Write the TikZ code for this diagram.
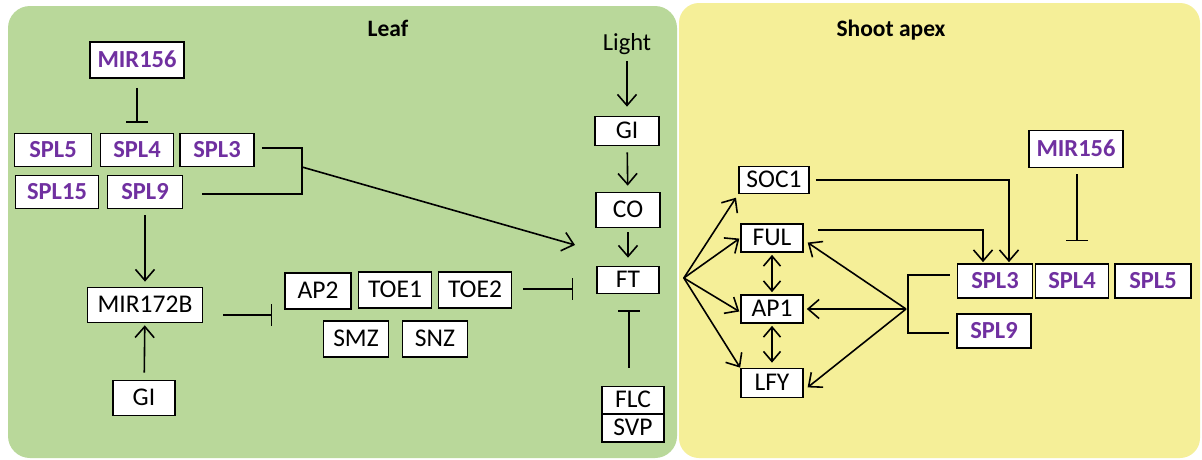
\documentclass[tikz,border=0pt]{standalone}
\usepackage{fontspec}
\setmainfont{Carlito}
\usetikzlibrary{arrows.meta,calc}
\definecolor{leafgreen}{RGB}{185,216,154}
\definecolor{apexyellow}{RGB}{245,239,152}
\definecolor{splpurple}{RGB}{112,48,160}
\begin{document}
\begin{tikzpicture}[x=1pt,y=-1pt,
  box/.style={draw=black,line width=1.7pt,fill=white,inner sep=0pt,
    text height=15.6pt,text depth=0pt,font=\fontsize{25.5}{28}\selectfont},
  pur/.style={text=splpurple,font=\fontsize{24.5}{28}\selectfont\bfseries},
  ttl/.style={font=\fontsize{23.5}{28}\selectfont\bfseries},
  ln/.style={line width=1.6pt},
  ar/.style={line width=1.6pt,-{Straight Barb[length=11pt,width=19pt]}},
  dar/.style={line width=1.6pt,{Straight Barb[length=10pt,width=17pt]}-{Straight Barb[length=10pt,width=17pt]}},
  inh/.style={line width=1.6pt,-{Bar[width=22pt]}}
]
\useasboundingbox (0,0) rectangle (1202,459);
\fill[white] (0,0) rectangle (1202,459);
% panels
\fill[leafgreen,rounded corners=22pt] (8,6) rectangle (677,458);
\fill[apexyellow,rounded corners=20pt] (679,3) rectangle (1200,458);
\node[ttl] (leaf) at (388,28) {Leaf};
\node[ttl] (apex) at (891,30) {Shoot apex};

% ---------- Leaf ----------
\node[box,pur,minimum width=94pt,minimum height=36pt] (mirL) at (137,60) {MIR156};
\node[box,pur,minimum width=77pt,minimum height=33pt] (spl5L) at (53,150) {SPL5};
\node[box,pur,minimum width=73pt,minimum height=33pt] (spl4L) at (137,150) {SPL4};
\node[box,pur,minimum width=74pt,minimum height=33pt] (spl3L) at (217,150) {SPL3};
\node[box,pur,minimum width=83pt,minimum height=33pt] (spl15L) at (57,192) {SPL15};
\node[box,pur,minimum width=75pt,minimum height=33pt] (spl9L) at (145,192) {SPL9};
\node[box,minimum width=115pt,minimum height=35pt] (mir172) at (145,305) {MIR172B};
\node[box,minimum width=62pt,minimum height=35pt] (giL) at (144,398) {GI};
\node[box,minimum width=66pt,minimum height=36pt] (ap2) at (318,291) {AP2};
\node[box,minimum width=73pt,minimum height=36pt] (toe1) at (395,290) {TOE1};
\node[box,minimum width=73pt,minimum height=36pt] (toe2) at (475,290) {TOE2};
\node[box,minimum width=65pt,minimum height=36pt] (smz) at (356,339) {SMZ};
\node[box,minimum width=65pt,minimum height=36pt] (snz) at (435,339) {SNZ};
\node[font=\fontsize{24.5}{28}\selectfont] (light) at (627,44) {Light};
\node[box,minimum width=64pt,minimum height=29pt] (giR) at (627,131) {GI};
\node[box,minimum width=64pt,minimum height=35pt] (co) at (628,210) {CO};
\node[box,minimum width=62pt,minimum height=27pt] (ft) at (628,280) {FT};
\node[box,minimum width=62pt,minimum height=27pt] (flc) at (633,400) {FLC};
\node[box,minimum width=62pt,minimum height=28pt] (svp) at (633,428) {SVP};

\draw[inh,shorten <=9pt,shorten >=10pt] (mirL) -- (spl4L);
\coordinate (bl1) at (302,148);
\coordinate (bl2) at (302,194);
\coordinate (blm) at (302,167);
\coordinate (ftin) at (575,245);
\draw[ln] ($(spl3L.east)+(7,-2)$) -- (bl1) -- (bl2) -- ($(spl9L.east)+(19,2)$);
\draw[ar] (blm) -- (ftin);
\draw[ar,shorten <=6pt,shorten >=5pt] (spl9L) -- (mir172);
\draw[ar,shorten <=7pt,shorten >=2pt] (giL) -- (mir172);
\draw[inh] ($(mir172.east)+(20,10)$) -- ($(ap2.west)+(-12,24)$);
\draw[inh] ($(toe2.east)+(11,-1)$) -- ($(ft.west)+(-23,9)$);
\draw[ar,shorten <=3pt,shorten >=9pt] (light) -- (giR);
\draw[ar,shorten <=6pt,shorten >=6pt] (giR) -- (co);
\draw[ar,shorten <=4pt,shorten >=8pt] (co) -- (ft);
\draw[inh] ($(flc.north)+(-4,-18)$) -- ($(ft.south)+(1,16)$);

% ---------- Shoot apex ----------
\node[box,minimum width=70pt,minimum height=27pt] (soc1) at (774,180) {SOC1};
\node[box,minimum width=62pt,minimum height=28pt] (ful) at (772,238) {FUL};
\node[box,minimum width=62pt,minimum height=28pt] (ap1) at (772,309) {AP1};
\node[box,minimum width=62pt,minimum height=29pt] (lfy) at (772,383) {LFY};
\node[box,pur,minimum width=94pt,minimum height=37pt] (mirR) at (1076,149) {MIR156};
\node[box,pur,minimum width=75pt,minimum height=34pt] (spl3R) at (995,281) {SPL3};
\node[box,pur,minimum width=73pt,minimum height=34pt] (spl4R) at (1072,281) {SPL4};
\node[box,pur,minimum width=76pt,minimum height=34pt] (spl5R) at (1153,281) {SPL5};
\node[box,pur,minimum width=74pt,minimum height=34pt] (spl9R) at (994,331) {SPL9};

\coordinate (fanL) at ($(ft.east)+(24,-2)$);
\draw[ar,shorten >=4pt] (fanL) -- (soc1.south west);
\draw[ar,shorten >=1pt] (fanL) -- (ful.west);
\draw[ar,shorten >=1pt] (fanL) -- ($(ap1.west)+(0,3)$);
\draw[ar,shorten >=0pt] (fanL) -- (lfy.north west);
\draw[dar,shorten <=2pt,shorten >=2pt] (ful) -- (ap1);
\draw[dar,shorten <=2pt,shorten >=5pt] (ap1) -- (lfy);

\coordinate (fanR) at (906,309);
\draw[ar,shorten >=1pt] (fanR) -- ($(ful.east)+(3,4)$);
\draw[ar,shorten >=3pt] (fanR) -- (ap1.east);
\draw[ar,shorten >=1pt] (fanR) -- ($(lfy.east)+(3,5)$);
\coordinate (br1) at (908,275);
\coordinate (br2) at (908,333);
\draw[ln] ($(spl3R.west)+(-7,-6)$) -- (br1) -- (br2) -- ($(spl9R.west)+(-7,2)$);

\draw[ar] ($(soc1.east)+(6,0)$) -| ($(spl3R.north)+(14,-1)$);
\draw[ar] ($(ful.east)+(14,-8)$) -| ($(spl3R.north)+(-12,-1)$);
\draw[inh] ($(mirR.south)+(1,6)$) -- ($(mirR.south |- spl4R.north)+(1,-22)$);
\end{tikzpicture}
\end{document}
